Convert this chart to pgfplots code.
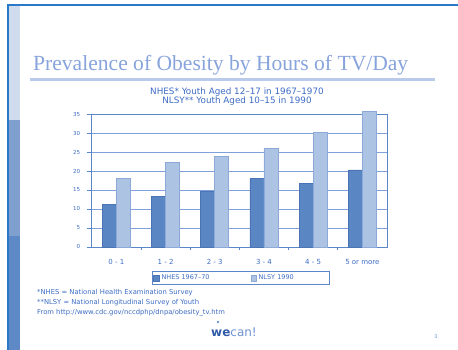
\documentclass[border=0pt]{standalone}
\usepackage{fontspec}
\setmainfont{DejaVu Sans}
\newfontfamily\titlefont{Liberation Serif}
\usepackage{pgfplots}
\pgfplotsset{compat=1.18}
\usepackage{graphicx}
\definecolor{txtblue}{HTML}{3D6CC4}
\definecolor{titleblue}{HTML}{88A4DC}
\definecolor{rulecol}{HTML}{B9CAEA}
\definecolor{frameblue}{HTML}{2A78C8}
\definecolor{stripeA}{HTML}{CFDCEE}
\definecolor{stripeB}{HTML}{7FA0CE}
\definecolor{stripeC}{HTML}{5D8AC6}
\definecolor{gridblue}{HTML}{7FA0DA}
\definecolor{axisblue}{HTML}{5B87C8}
\definecolor{darkbar}{HTML}{5A86C4}
\definecolor{darkbaredge}{HTML}{4A74B6}
\definecolor{lightbar}{HTML}{ADC3E4}
\definecolor{lightbaredge}{HTML}{8CA9D8}
\definecolor{logodark}{HTML}{2F5AA8}
\definecolor{logolight}{HTML}{6E93D6}
\begin{document}
\begin{tikzpicture}[x=1pt,y=1pt]
\useasboundingbox (0,0) rectangle (458,350);
\fill[white] (0,0) rectangle (458,350);
\fill[stripeA] (8,230) rectangle (20,345);
\fill[stripeB] (8,114) rectangle (20,230);
\fill[stripeC] (8,0) rectangle (20,114);
\draw[frameblue, line width=1.2pt] (8,0) -- (8,345) -- (458,345);
% title
\node[anchor=base west, inner sep=0pt, text=titleblue] at (33,279)
  {\resizebox{375pt}{!}{\titlefont Prevalence of Obesity by Hours of TV/Day}};
\fill[rulecol] (30,269) rectangle (435,272);
% subtitles
\node[text=txtblue, font=\fontsize{8.8}{9}\selectfont, inner sep=0pt] at (237,258)
  {NHES* Youth Aged 12--17 in 1967--1970};
\node[text=txtblue, font=\fontsize{8.8}{9}\selectfont, inner sep=0pt] at (237,249)
  {NLSY** Youth Aged 10--15 in 1990};
\begin{axis}[
  at={(91.7pt,103pt)}, anchor=south west,
  scale only axis, width=295.3pt, height=133pt,
  xmin=-0.5, xmax=5.5, ymin=0, ymax=35,
  clip=false,
  ybar=0pt, bar width=14pt,
  xtick={0,1,2,3,4,5},
  xticklabels={0 - 1, 1 - 2, 2 - 3, 3 - 4, 4 - 5, 5 or more},
  minor xtick={0.5,1.5,2.5,3.5,4.5},
  ytick={0,5,10,15,20,25,30,35},
  ymajorgrids,
  major grid style={gridblue, line width=0.8pt},
  axis line style={axisblue, line width=0.8pt},
  major x tick style={draw=none},
  minor x tick style={axisblue, line width=0.6pt},
  major y tick style={axisblue, line width=0.6pt},
  tick align=outside,
  major tick length=5pt, minor tick length=3pt,
  xtick pos=bottom, ytick pos=left,
  /pgf/number format/assume math mode=true,
  yticklabel style={text=txtblue, font=\fontsize{5.5}{6}\selectfont, xshift=-3pt},
  xticklabel style={text=txtblue, font=\fontsize{7}{8}\selectfont, yshift=-4pt},
  legend style={at={(0.504,-0.233)}, anchor=center, legend columns=2,
    draw=axisblue, line width=0.6pt, font=\fontsize{6.5}{7}\selectfont,
    text=txtblue, inner sep=1.5pt,
    /tikz/every even column/.append style={column sep=12pt}},
  legend image code/.code={\draw[#1] (0pt,-2.8pt) rectangle (5.6pt,2.8pt);},
]
\addplot[fill=darkbar, draw=darkbaredge, line width=0.5pt] coordinates
  {(0,11.2) (1,13.4) (2,14.7) (3,18.0) (4,16.8) (5,20.3)};
\addplot[fill=lightbar, draw=lightbaredge, line width=0.5pt] coordinates
  {(0,18.1) (1,22.3) (2,23.9) (3,26.0) (4,30.1) (5,35.6)};
\legend{\makebox[75pt][l]{NHES 1967--70}, \makebox[67pt][l]{NLSY 1990}}
\end{axis}
% footnotes
\begin{scope}[every node/.style={anchor=west, inner sep=0pt, text=txtblue, font=\fontsize{6.8}{7}\selectfont}]
\node at (37,57) {*NHES = National Health Examination Survey};
\node at (37,47) {**NLSY = National Longitudinal Survey of Youth};
\node at (37,37.5) {From http://www.cdc.gov/nccdphp/dnpa/obesity\_tv.htm};
\end{scope}
% logo
\fill[logolight] (218,28) circle (1.3pt);
\node[anchor=base west, inner sep=0pt, font=\fontsize{12}{12}\selectfont] at (211,13)
  {\textcolor{logodark}{\bfseries we}\textcolor{logolight}{ can!}};
\node[text=logolight, font=\fontsize{5}{5}\selectfont, inner sep=0pt] at (436,13) {3};
\end{tikzpicture}
\end{document}
